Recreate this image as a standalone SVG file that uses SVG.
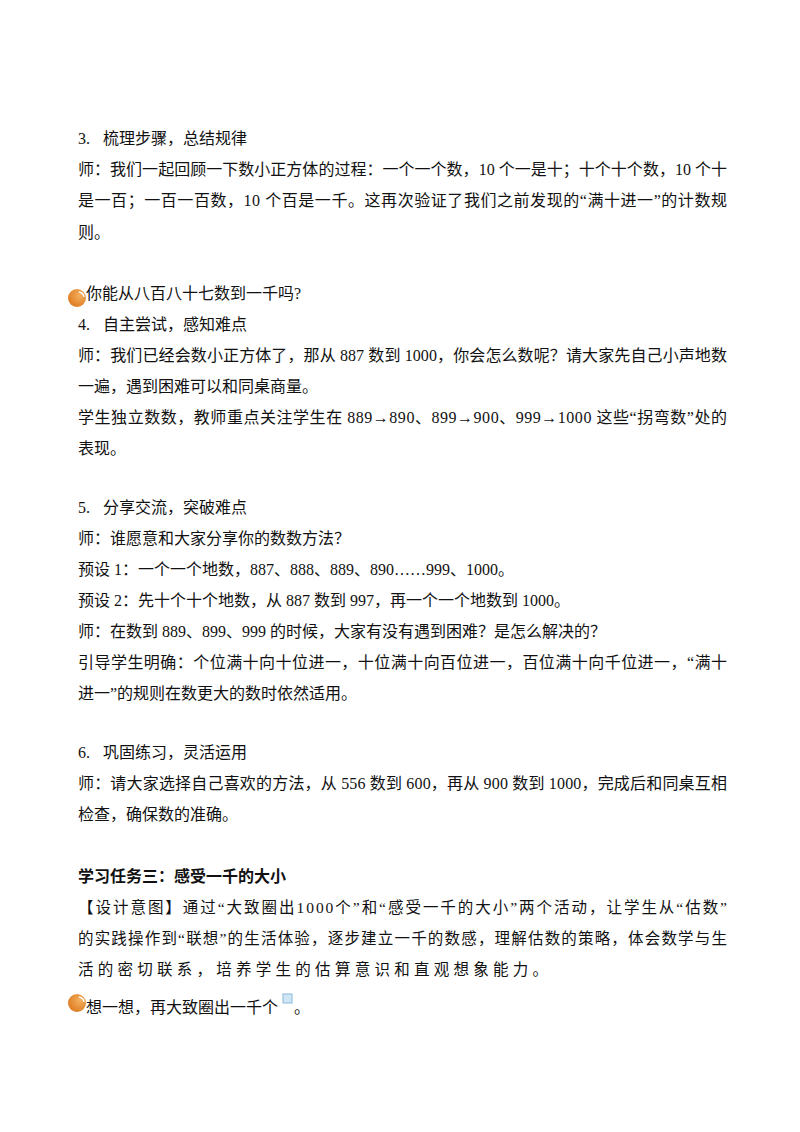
<svg xmlns="http://www.w3.org/2000/svg" width="800" height="1132" viewBox="0 0 800 1132">
<defs>
<style>
text{font-family:"Liberation Serif","Noto Sans CJK SC",serif;font-size:16px;fill:#111}
.b{font-weight:bold}
.k{font-size:15.5px}
</style>
<radialGradient id="og" cx="0.65" cy="0.35" r="0.7"><stop offset="0" stop-color="#f5b060"/><stop offset="1" stop-color="#de7c22"/></radialGradient>
</defs>
<rect width="800" height="1132" fill="#fff"/>
<text x="78" y="144">3.</text><text x="103" y="144">梳理步骤，总结规律</text>
<text x="78" y="175" textLength="649" lengthAdjust="spacing">师：我们一起回顾一下数小正方体的过程：一个一个数，10 个一是十；十个十个数，10 个十</text>
<text x="78" y="206" textLength="649" lengthAdjust="spacing">是一百；一百一百数，10 个百是一千。这再次验证了我们之前发现的“满十进一”的计数规</text>
<text x="78" y="238">则。</text>
<g id="ball1"><circle cx="77" cy="298" r="9" fill="url(#og)"/><path d="M79 292 a6 6 0 0 1 5 5" stroke="#fff" stroke-width="1.5" fill="none"/></g>
<text x="86" y="299">你能从八百八十七数到一千吗?</text>
<text x="78" y="330">4.</text><text x="103" y="330">自主尝试，感知难点</text>
<text x="78" y="361" textLength="649" lengthAdjust="spacing">师：我们已经会数小正方体了，那从 887 数到 1000，你会怎么数呢？请大家先自己小声地数</text>
<text x="78" y="392">一遍，遇到困难可以和同桌商量。</text>
<text x="78" y="423" textLength="649" lengthAdjust="spacing">学生独立数数，教师重点关注学生在 889→890、899→900、999→1000 这些“拐弯数”处的</text>
<text x="78" y="454">表现。</text>
<text x="78" y="513">5.</text><text x="103" y="513">分享交流，突破难点</text>
<text x="78" y="544">师：谁愿意和大家分享你的数数方法？</text>
<text x="78" y="575">预设 1：一个一个地数，887、888、889、890……999、1000。</text>
<text x="78" y="606">预设 2：先十个十个地数，从 887 数到 997，再一个一个地数到 1000。</text>
<text x="78" y="637">师：在数到 889、899、999 的时候，大家有没有遇到困难？是怎么解决的？</text>
<text x="78" y="668" textLength="649" lengthAdjust="spacing">引导学生明确：个位满十向十位进一，十位满十向百位进一，百位满十向千位进一，“满十</text>
<text x="78" y="699">进一”的规则在数更大的数时依然适用。</text>
<text x="78" y="758">6.</text><text x="103" y="758">巩固练习，灵活运用</text>
<text x="78" y="789" textLength="649" lengthAdjust="spacing">师：请大家选择自己喜欢的方法，从 556 数到 600，再从 900 数到 1000，完成后和同桌互相</text>
<text x="78" y="820">检查，确保数的准确。</text>
<text x="78" y="882" class="b">学习任务三：感受一千的大小</text>
<text x="78" y="913" class="k" textLength="649" lengthAdjust="spacing">【设计意图】通过“大致圈出1000个”和“感受一千的大小”两个活动，让学生从“估数”</text>
<text x="78" y="944" class="k" textLength="649" lengthAdjust="spacing">的实践操作到“联想”的生活体验，逐步建立一千的数感，理解估数的策略，体会数学与生</text>
<text x="78" y="975" class="k" textLength="470" lengthAdjust="spacing">活的密切联系，培养学生的估算意识和直观想象能力。</text>
<g id="ball2"><circle cx="77" cy="1003" r="9" fill="url(#og)"/><path d="M79 997 a6 6 0 0 1 5 5" stroke="#fff" stroke-width="1.5" fill="none"/></g>
<text x="86" y="1013">想一想，再大致圈出一千个</text>
<rect x="283" y="994" width="9" height="9" fill="#cfe6f7" stroke="#8ab8d8" stroke-width="1"/>
<text x="294" y="1013">。</text>
</svg>
